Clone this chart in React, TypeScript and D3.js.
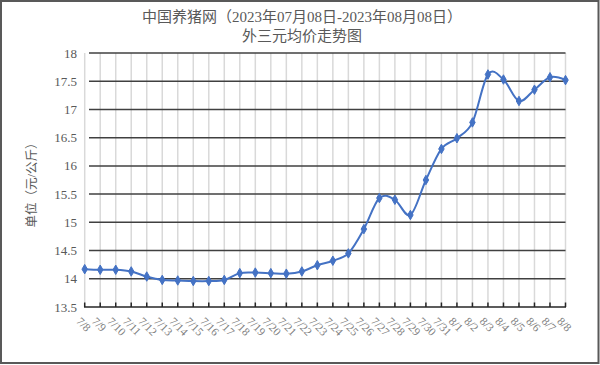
import React, { useEffect } from "react";
import * as d3 from "d3";

const dates = [
  "7/8","7/9","7/10","7/11","7/12","7/13","7/14","7/15","7/16","7/17","7/18","7/19","7/20","7/21","7/22","7/23",
  "7/24","7/25","7/26","7/27","7/28","7/29","7/30","7/31","8/1","8/2","8/3","8/4","8/5","8/6","8/7","8/8",
];
const prices = [
  14.17, 14.16, 14.16, 14.13, 14.04, 13.98, 13.97, 13.96, 13.96, 13.98, 14.10, 14.11, 14.10, 14.09, 14.13, 14.24,
  14.32, 14.45, 14.88, 15.43, 15.40, 15.13, 15.75, 16.30, 16.49, 16.77, 17.62, 17.53, 17.15, 17.35, 17.57, 17.52,
];
const yTicks = [13.5, 14, 14.5, 15, 15.5, 16, 16.5, 17, 17.5, 18];
const yTickLabels = ["13.5", "14", "14.5", "15", "15.5", "16", "16.5", "17", "17.5", "18"];
const titleLine1 = "中国养猪网（2023年07月08日-2023年08月08日）";
const titleLine2 = "外三元均价走势图";
const yTitle = "单位（元/公斤）";

const W = 600;
const H = 365;
const FONT = "'Liberation Serif', 'DejaVu Serif', 'Noto Sans CJK SC', serif";

export default function App() {
  useEffect(() => {
    document.body.style.margin = "0";
  }, []);

  const x = d3.scalePoint<string>().domain(dates).range([84.7, 565.5]);
  const y = d3.scaleLinear().domain([13.5, 18]).range([307, 53]);
  const line = d3
    .line<number>()
    .x((_, i) => x(dates[i]) as number)
    .y((d) => y(d))
    .curve(d3.curveCardinal.tension(0));
  const diamond = d3.symbol().type(d3.symbolDiamond).size(26)() as string;

  return (
    <svg width={W} height={H} style={{ position: "absolute", left: 0, top: 0, background: "#fff" }}>
      <rect x={1} y={1} width={597.5} height={362} fill="#fff" stroke="#595959" strokeWidth={2} />
      <text x={302} y={22} textAnchor="middle" fontFamily={FONT} fontSize={15} fill="#595959">
        {titleLine1}
      </text>
      <text x={302} y={41} textAnchor="middle" fontFamily={FONT} fontSize={15} fill="#595959">
        {titleLine2}
      </text>
      {dates.map((d) => (
        <line key={"v" + d} x1={x(d)} x2={x(d)} y1={53} y2={307} stroke="#d9d9d9" strokeWidth={1.5} />
      ))}
      {yTicks.slice(1).map((t) => (
        <line key={"h" + t} x1={89} x2={565.5} y1={y(t)} y2={y(t)} stroke="#404040" strokeWidth={1.5} />
      ))}
      <line x1={84} x2={566} y1={307} y2={307} stroke="#262626" strokeWidth={1.5} />
      {dates.map((d) => (
        <line key={"t" + d} x1={x(d)} x2={x(d)} y1={307} y2={302.5} stroke="#262626" strokeWidth={1.5} />
      ))}
      {yTicks.map((t, i) => (
        <text
          key={"yl" + t}
          x={77}
          y={y(t)}
          dy="0.35em"
          textAnchor="end"
          fontFamily={FONT}
          fontSize={13}
          fill="#595959"
        >
          {yTickLabels[i]}
        </text>
      ))}
      <text
        transform={`translate(36,182) rotate(-90)`}
        textAnchor="middle"
        fontFamily={FONT}
        fontSize={12.5}
        fill="#595959"
      >
        {yTitle}
      </text>
      {dates.map((d) => (
        <text
          key={"xl" + d}
          transform={`translate(${(x(d) as number) - 9},${322}) rotate(45)`}
          fontFamily={FONT}
          fontSize={11.5}
          fill="#808080"
        >
          {d}
        </text>
      ))}
      <path d={line(prices) as string} fill="none" stroke="#4472C4" strokeWidth={2} />
      {prices.map((p, i) => (
        <path
          key={"m" + i}
          d={diamond}
          transform={`translate(${x(dates[i])},${y(p)})`}
          fill="#4472C4"
          stroke="#4472C4"
          strokeWidth={1}
        />
      ))}
    </svg>
  );
}
